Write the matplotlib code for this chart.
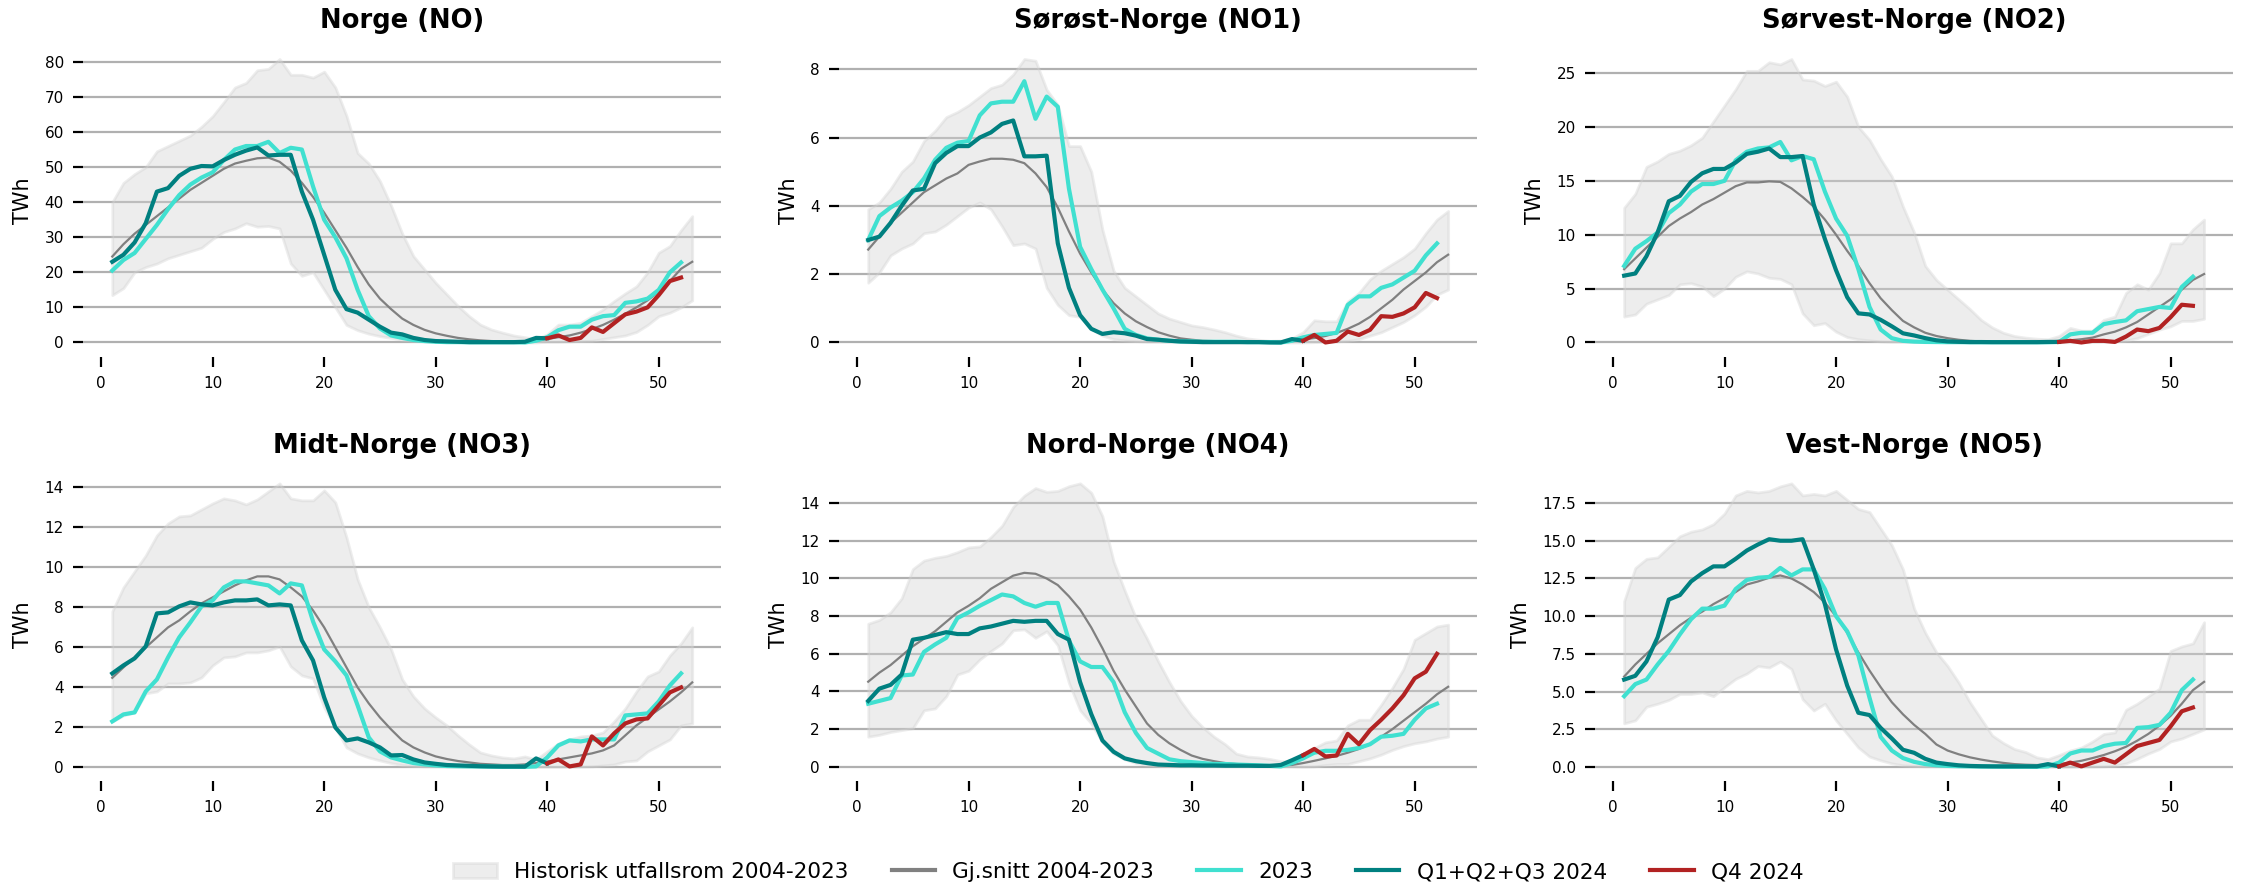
import matplotlib
matplotlib.use("Agg")
import matplotlib.pyplot as plt
from matplotlib.ticker import MultipleLocator
from matplotlib.patches import Patch
from matplotlib.lines import Line2D

weeks = list(range(1, 54))
weeks_2023 = list(range(1, 53))
weeks_q123 = list(range(1, 41))
weeks_q4 = list(range(40, 53))

titles = ["Norge (NO)", "Sørøst-Norge (NO1)", "Sørvest-Norge (NO2)",
          "Midt-Norge (NO3)", "Nord-Norge (NO4)", "Vest-Norge (NO5)"]
legend_labels = ["Historisk utfallsrom 2004-2023", "Gj.snitt 2004-2023",
                 "2023", "Q1+Q2+Q3 2024", "Q4 2024"]

# ---------------- Norge (NO) ----------------
NO_mean = [24.5, 28, 31, 33.5, 36, 38.5, 41, 43.5, 45.5, 47.5, 49.5, 51, 51.8, 52.5, 52.7, 51.5, 49, 45.5, 41.5, 37,
           32, 27, 21.5, 16.5, 12.5, 9.5, 6.8, 5, 3.6, 2.6, 1.9, 1.3, 0.9, 0.6, 0.4, 0.3, 0.25, 0.35, 0.6, 1.0,
           1.5, 2.0, 2.8, 3.8, 5.0, 6.5, 8.2, 10.0, 12.0, 14.5, 17.5, 21.0, 23.0]
NO_hi = [40, 45.5, 48, 50, 54.5, 56, 57.5, 59, 61.5, 64.5, 68.5, 72.7, 74, 77.6, 78, 80.8, 76.3, 76.3, 75.5, 77.2,
         72.7, 64.6, 54, 51, 46, 39, 31, 24.6, 20.8, 17, 13.7, 10.4, 7.5, 5.1, 3.7, 2.8, 2.0, 1.5, 1.0, 2.3,
         5.1, 5.1, 5.6, 7.5, 9.4, 11.8, 14, 16, 20, 25.6, 27.5, 32, 36]
NO_lo = [13.5, 15.5, 20, 21.5, 22.5, 24, 25, 26, 27, 29.5, 31.5, 32.5, 34, 33, 33.2, 32.5, 22.5, 19, 20, 15,
         10, 5, 3.5, 2.5, 1.8, 1.3, 0.8, 0.5, 0.3, 0.2, 0.1, 0.1, 0.05, 0.05, 0.05, 0, 0, 0, 0, 0.2,
         0.2, 0.3, 0.4, 0.5, 1.0, 1.5, 2.0, 3.0, 5.0, 7.5, 8.5, 10, 12]
NO_2023 = [20.5, 23.5, 25.5, 29.5, 33.5, 38, 42, 45, 47, 48.5, 52, 55, 56, 56, 57.2, 54, 55.5, 55, 44.5, 35,
           30, 24, 15, 7.5, 4, 2, 1.3, 0.7, 0.4, 0.2, 0.1, 0.1, 0.05, 0.05, 0.05, 0.05, 0.05, 0.0, 0.5, 1.5,
           3.5, 4.5, 4.5, 6.5, 7.5, 7.8, 11.3, 11.7, 12.5, 15, 20, 22.8]
NO_2024 = [23, 25, 28.5, 34, 43, 44, 47.5, 49.5, 50.3, 50.2, 52, 53.5, 54.7, 55.6, 53.3, 53.5, 53.5, 43, 35, 25,
           15, 9.5, 8.5, 6.5, 4.5, 2.8, 2.3, 1.3, 0.7, 0.4, 0.3, 0.2, 0.1, 0.1, 0.1, 0.1, 0.1, 0.2, 1.3, 1.2]
NO_q4 = [1.2, 2.0, 0.7, 1.3, 4.3, 3.0, 5.5, 8.0, 8.8, 10, 13.5, 17.5, 18.5]

# ---------------- NO1 ----------------
NO1_mean = [2.72, 3.1, 3.5, 3.8, 4.1, 4.4, 4.6, 4.8, 4.95, 5.2, 5.3, 5.38, 5.38, 5.35, 5.25, 4.95, 4.55, 3.95, 3.25, 2.6,
            2.05, 1.55, 1.15, 0.85, 0.62, 0.45, 0.3, 0.2, 0.12, 0.08, 0.05, 0.04, 0.03, 0.03, 0.02, 0.02, 0.02, 0.02, 0.04, 0.09,
            0.13, 0.19, 0.28, 0.4, 0.55, 0.75, 1.0, 1.25, 1.55, 1.8, 2.05, 2.35, 2.57]
NO1_hi = [3.9, 4.1, 4.5, 5.0, 5.3, 5.9, 6.2, 6.6, 6.75, 6.95, 7.2, 7.45, 7.55, 7.85, 8.3, 8.25, 7.4, 6.95, 5.75, 5.75,
          5.0, 3.3, 2.1, 1.6, 1.35, 1.1, 0.85, 0.7, 0.6, 0.5, 0.45, 0.38, 0.3, 0.2, 0.12, 0.08, 0.05, 0.06, 0.12, 0.3,
          0.65, 0.62, 0.62, 1.2, 1.45, 1.85, 2.1, 2.3, 2.5, 2.75, 3.2, 3.6, 3.85]
NO1_lo = [1.75, 2.05, 2.55, 2.75, 2.9, 3.2, 3.25, 3.45, 3.7, 3.95, 4.1, 3.9, 3.4, 2.85, 2.9, 2.75, 1.6, 1.1, 0.8, 0.75,
          0.4, 0.2, 0.1, 0.06, 0.04, 0.02, 0.02, 0.01, 0.01, 0.0, 0.0, 0.0, 0.0, 0.0, 0.0, 0.0, 0.0, 0.0, 0.0, 0.0,
          0.01, 0.02, 0.03, 0.05, 0.1, 0.2, 0.3, 0.45, 0.6, 0.8, 1.05, 1.4, 1.55]
NO1_2023 = [3.0, 3.7, 3.95, 4.15, 4.4, 4.8, 5.35, 5.7, 5.85, 5.9, 6.65, 7.0, 7.05, 7.05, 7.65, 6.55, 7.2, 6.9, 4.5, 2.8,
            2.15, 1.55, 1.0, 0.4, 0.22, 0.12, 0.08, 0.05, 0.03, 0.03, 0.02, 0.02, 0.02, 0.02, 0.01, 0.01, 0.01, 0.0, 0.05, 0.15,
            0.22, 0.25, 0.28, 1.1, 1.35, 1.35, 1.6, 1.7, 1.9, 2.1, 2.55, 2.9]
NO1_2024 = [3.0, 3.1, 3.5, 4.0, 4.45, 4.5, 5.25, 5.55, 5.75, 5.75, 6.0, 6.15, 6.4, 6.5, 5.45, 5.45, 5.47, 2.9, 1.6, 0.8,
            0.4, 0.25, 0.3, 0.27, 0.2, 0.1, 0.08, 0.05, 0.03, 0.02, 0.01, 0.01, 0.01, 0.01, 0.01, 0.01, 0.0, 0.0, 0.1, 0.05]
NO1_q4 = [0.05, 0.22, 0.0, 0.05, 0.32, 0.22, 0.37, 0.77, 0.75, 0.85, 1.03, 1.45, 1.3]

# ---------------- NO2 ----------------
NO2_mean = [6.8, 7.8, 8.8, 9.8, 10.8, 11.5, 12.1, 12.8, 13.3, 13.9, 14.5, 14.85, 14.85, 14.95, 14.9, 14.3, 13.5, 12.6, 11.4, 10.0,
            8.5, 7.1, 5.5, 4.1, 3.0, 2.0, 1.4, 0.9, 0.6, 0.4, 0.25, 0.15, 0.1, 0.08, 0.06, 0.05, 0.05, 0.05, 0.1, 0.15,
            0.2, 0.3, 0.45, 0.75, 1.0, 1.4, 1.9, 2.6, 3.3, 4.0, 4.9, 5.8, 6.35]
NO2_hi = [12.5, 13.8, 16.3, 16.8, 17.5, 17.8, 18.3, 19.0, 20.5, 22.0, 23.5, 25.2, 25.2, 26.0, 25.8, 26.3, 24.4, 24.3, 23.8, 24.2,
          22.8, 20.0, 18.8, 17.0, 15.4, 12.6, 10.2, 7.1, 5.8, 4.9, 4.0, 3.1, 2.1, 1.4, 0.9, 0.6, 0.45, 0.35, 0.3, 0.6,
          1.35, 1.1, 1.1, 2.1, 2.4, 4.6, 5.4, 4.9, 6.45, 9.2, 9.2, 10.5, 11.4]
NO2_lo = [2.4, 2.6, 3.6, 4.0, 4.4, 5.4, 5.5, 5.2, 4.3, 5.0, 6.1, 6.6, 6.4, 6.0, 5.9, 5.4, 2.7, 1.6, 1.8, 1.0,
          0.5, 0.3, 0.2, 0.1, 0.05, 0.05, 0.04, 0.03, 0.03, 0.02, 0.02, 0.02, 0.02, 0.02, 0.02, 0.02, 0.02, 0.02, 0.02, 0.02,
          0.02, 0.02, 0.03, 0.05, 0.1, 0.2, 0.4, 0.8, 1.2, 1.5, 2.0, 2.0, 2.2]
NO2_2023 = [7.1, 8.7, 9.4, 10.2, 12.0, 12.8, 14.0, 14.7, 14.7, 15.0, 16.9, 17.7, 18.0, 18.1, 18.6, 16.9, 17.3, 17.0, 14.0, 11.5,
            9.9, 6.8, 3.3, 1.2, 0.4, 0.15, 0.08, 0.05, 0.04, 0.03, 0.03, 0.02, 0.02, 0.02, 0.02, 0.02, 0.02, 0.02, 0.02, 0.05,
            0.75, 0.9, 0.9, 1.7, 1.9, 2.05, 2.9, 3.1, 3.3, 3.2, 5.15, 6.1]
NO2_2024 = [6.2, 6.4, 8.0, 10.2, 13.1, 13.6, 14.9, 15.7, 16.1, 16.1, 16.7, 17.5, 17.7, 18.0, 17.2, 17.2, 17.3, 12.8, 9.6, 6.7,
            4.2, 2.7, 2.6, 2.1, 1.5, 0.85, 0.65, 0.4, 0.2, 0.1, 0.06, 0.04, 0.04, 0.03, 0.03, 0.03, 0.03, 0.03, 0.05, 0.05]
NO2_q4 = [0.05, 0.15, 0.0, 0.15, 0.15, 0.05, 0.55, 1.2, 1.05, 1.35, 2.35, 3.5, 3.4]

# ---------------- NO3 ----------------
NO3_mean = [4.48, 5.0, 5.5, 6.0, 6.5, 7.0, 7.35, 7.8, 8.2, 8.5, 8.8, 9.1, 9.35, 9.55, 9.55, 9.4, 9.0, 8.55, 7.85, 7.0,
            6.0, 5.0, 4.0, 3.2, 2.5, 1.9, 1.35, 1.0, 0.75, 0.55, 0.42, 0.32, 0.25, 0.18, 0.15, 0.12, 0.12, 0.15, 0.22, 0.3,
            0.4, 0.5, 0.6, 0.7, 0.85, 1.1, 1.6, 2.1, 2.5, 2.9, 3.3, 3.75, 4.25]
NO3_hi = [7.8, 9.0, 9.8, 10.6, 11.6, 12.2, 12.55, 12.6, 12.9, 13.2, 13.45, 13.35, 13.15, 13.4, 13.8, 14.2, 13.45, 13.35, 13.35, 13.85,
          13.25, 11.5, 9.4, 8.0, 7.0, 5.9, 4.4, 3.55, 2.95, 2.5, 2.1, 1.6, 1.15, 0.75, 0.6, 0.5, 0.45, 0.55, 0.4, 0.8,
          1.2, 1.4, 1.55, 1.6, 1.75, 2.3, 2.95, 3.8, 4.55, 4.8, 5.6, 6.2, 7.0]
NO3_lo = [2.3, 2.6, 2.75, 3.7, 3.8, 4.2, 4.2, 4.25, 4.5, 5.1, 5.5, 5.55, 5.75, 5.75, 5.85, 6.05, 5.05, 4.6, 4.45, 3.0,
          2.0, 1.0, 0.7, 0.5, 0.35, 0.22, 0.12, 0.08, 0.05, 0.05, 0.04, 0.04, 0.03, 0.03, 0.03, 0.03, 0.03, 0.03, 0.03, 0.03,
          0.03, 0.03, 0.03, 0.05, 0.1, 0.15, 0.3, 0.35, 0.8, 1.1, 1.4, 2.1, 2.2]
NO3_2023 = [2.3, 2.65, 2.75, 3.8, 4.4, 5.5, 6.5, 7.25, 8.05, 8.35, 9.0, 9.3, 9.3, 9.2, 9.1, 8.7, 9.2, 9.1, 7.3, 5.9,
            5.3, 4.6, 3.1, 1.5, 0.8, 0.5, 0.35, 0.22, 0.15, 0.1, 0.07, 0.06, 0.05, 0.05, 0.04, 0.04, 0.04, 0.03, 0.05, 0.5,
            1.1, 1.35, 1.3, 1.4, 1.4, 1.4, 2.6, 2.65, 2.7, 3.3, 4.1, 4.7]
NO3_2024 = [4.7, 5.1, 5.45, 6.05, 7.7, 7.75, 8.05, 8.25, 8.15, 8.1, 8.25, 8.35, 8.35, 8.4, 8.1, 8.15, 8.1, 6.35, 5.35, 3.5,
            2.0, 1.35, 1.45, 1.25, 1.0, 0.6, 0.62, 0.4, 0.25, 0.18, 0.12, 0.1, 0.08, 0.06, 0.05, 0.04, 0.04, 0.04, 0.45, 0.2]
NO3_q4 = [0.2, 0.4, 0.05, 0.15, 1.55, 1.1, 1.7, 2.2, 2.4, 2.45, 3.1, 3.75, 4.0]

# ---------------- NO4 ----------------
NO4_mean = [4.52, 5.0, 5.4, 5.9, 6.4, 6.8, 7.2, 7.7, 8.2, 8.55, 8.95, 9.45, 9.8, 10.15, 10.3, 10.25, 10.0, 9.65, 9.05, 8.35,
            7.4, 6.3, 5.1, 4.1, 3.2, 2.3, 1.7, 1.25, 0.9, 0.6, 0.42, 0.3, 0.2, 0.15, 0.12, 0.1, 0.08, 0.08, 0.1, 0.2,
            0.32, 0.45, 0.58, 0.75, 0.95, 1.2, 1.6, 2.0, 2.45, 2.9, 3.35, 3.85, 4.25]
NO4_hi = [7.6, 7.8, 8.2, 8.95, 10.5, 10.95, 11.1, 11.2, 11.4, 11.65, 11.7, 12.2, 12.8, 13.8, 14.4, 14.8, 14.6, 14.65, 14.9, 15.05,
          14.55, 13.3, 10.9, 9.35, 7.9, 6.8, 5.6, 4.5, 3.5, 2.7, 2.1, 1.6, 1.2, 0.7, 0.55, 0.5, 0.42, 0.3, 0.3, 0.6,
          1.0, 1.3, 1.4, 2.2, 2.5, 2.5, 3.3, 4.2, 5.2, 6.75, 7.1, 7.45, 7.55]
NO4_lo = [1.6, 1.7, 1.85, 1.95, 2.05, 3.0, 3.1, 3.75, 4.9, 5.1, 5.7, 6.15, 6.55, 7.25, 7.3, 6.85, 7.2, 6.45, 4.45, 3.0,
          2.3, 1.3, 0.7, 0.4, 0.2, 0.1, 0.06, 0.05, 0.05, 0.04, 0.04, 0.04, 0.03, 0.03, 0.03, 0.03, 0.02, 0.02, 0.02, 0.0,
          0.02, 0.1, 0.15, 0.15, 0.3, 0.45, 0.65, 0.9, 1.1, 1.25, 1.35, 1.5, 1.6]
NO4_2023 = [3.35, 3.5, 3.65, 4.85, 4.9, 6.1, 6.5, 6.85, 7.9, 8.2, 8.55, 8.85, 9.15, 9.05, 8.7, 8.5, 8.7, 8.7, 6.7, 5.6,
            5.3, 5.3, 4.5, 2.9, 1.8, 1.0, 0.7, 0.4, 0.3, 0.25, 0.2, 0.15, 0.15, 0.12, 0.1, 0.08, 0.05, 0.02, 0.2, 0.45,
            0.75, 0.85, 0.85, 0.9, 1.0, 1.2, 1.6, 1.65, 1.75, 2.5, 3.1, 3.35]
NO4_2024 = [3.5, 4.15, 4.35, 4.9, 6.75, 6.85, 7.0, 7.15, 7.05, 7.05, 7.35, 7.45, 7.6, 7.75, 7.7, 7.75, 7.75, 7.05, 6.75, 4.5,
            2.8, 1.4, 0.8, 0.45, 0.3, 0.2, 0.12, 0.1, 0.08, 0.08, 0.07, 0.07, 0.06, 0.06, 0.06, 0.05, 0.05, 0.1, 0.35, 0.62]
NO4_q4 = [0.62, 0.95, 0.55, 0.6, 1.75, 1.2, 1.95, 2.5, 3.1, 3.8, 4.7, 5.05, 6.0]

# ---------------- NO5 ----------------
NO5_mean = [6.0, 6.8, 7.5, 8.2, 8.8, 9.4, 9.9, 10.3, 10.8, 11.2, 11.6, 12.1, 12.3, 12.55, 12.7, 12.5, 12.1, 11.6, 10.9, 10.0,
            8.9, 7.6, 6.4, 5.3, 4.3, 3.5, 2.8, 2.2, 1.5, 1.1, 0.85, 0.65, 0.5, 0.38, 0.28, 0.2, 0.16, 0.14, 0.16, 0.2,
            0.3, 0.42, 0.6, 0.8, 1.05, 1.35, 1.75, 2.2, 2.75, 3.4, 4.2, 5.1, 5.65]
NO5_hi = [11.0, 13.2, 13.8, 13.9, 14.6, 15.3, 15.6, 15.75, 16.1, 16.8, 18.0, 18.3, 18.2, 18.3, 18.6, 18.8, 18.0, 18.1, 18.0, 18.3,
          17.7, 17.1, 16.9, 15.8, 14.7, 13.1, 10.5, 8.9, 7.6, 6.7, 5.6, 4.3, 3.2, 2.1, 1.6, 1.2, 1.0, 0.65, 0.53, 0.8,
          1.1, 1.3, 1.7, 2.2, 2.3, 3.8, 4.2, 4.7, 5.2, 7.7, 8.0, 8.2, 9.6]
NO5_lo = [2.9, 3.1, 4.0, 4.2, 4.45, 4.85, 4.85, 4.95, 4.7, 5.3, 5.85, 6.2, 6.7, 6.6, 7.0, 6.5, 4.5, 3.75, 4.2, 3.1,
          2.2, 1.3, 0.7, 0.45, 0.25, 0.12, 0.08, 0.05, 0.05, 0.04, 0.04, 0.03, 0.03, 0.03, 0.03, 0.02, 0.02, 0.02, 0.02, 0.02,
          0.02, 0.02, 0.03, 0.05, 0.1, 0.25, 0.55, 0.9, 1.2, 1.7, 1.9, 2.2, 2.5]
NO5_2023 = [4.7, 5.5, 5.8, 6.8, 7.7, 8.8, 9.8, 10.5, 10.5, 10.7, 11.8, 12.4, 12.55, 12.6, 13.2, 12.7, 13.1, 13.1, 11.8, 10.0,
            9.0, 7.4, 4.6, 2.0, 1.1, 0.6, 0.35, 0.2, 0.12, 0.08, 0.06, 0.05, 0.04, 0.04, 0.03, 0.03, 0.03, 0.02, 0.05, 0.3,
            0.9, 1.1, 1.1, 1.4, 1.55, 1.6, 2.6, 2.65, 2.8, 3.6, 5.1, 5.8]
NO5_2024 = [5.8, 6.05, 7.0, 8.6, 11.1, 11.4, 12.3, 12.85, 13.3, 13.3, 13.8, 14.35, 14.75, 15.1, 15.0, 15.0, 15.1, 13.1, 10.8, 7.8,
            5.4, 3.6, 3.45, 2.6, 1.9, 1.15, 0.95, 0.55, 0.3, 0.2, 0.12, 0.08, 0.06, 0.05, 0.05, 0.05, 0.05, 0.05, 0.2, 0.05]
NO5_q4 = [0.05, 0.3, 0.05, 0.3, 0.55, 0.3, 0.85, 1.4, 1.6, 1.8, 2.7, 3.7, 3.95]

ytick_steps = [10, 2, 5, 2, 2, 2.5]

panels = [
    (NO_lo, NO_hi, NO_mean, NO_2023, NO_2024, NO_q4),
    (NO1_lo, NO1_hi, NO1_mean, NO1_2023, NO1_2024, NO1_q4),
    (NO2_lo, NO2_hi, NO2_mean, NO2_2023, NO2_2024, NO2_q4),
    (NO3_lo, NO3_hi, NO3_mean, NO3_2023, NO3_2024, NO3_q4),
    (NO4_lo, NO4_hi, NO4_mean, NO4_2023, NO4_2024, NO4_q4),
    (NO5_lo, NO5_hi, NO5_mean, NO5_2023, NO5_2024, NO5_q4),
]

BAND = "#d3d3d3"
MEAN = "gray"
C2023 = "turquoise"
C2024 = "teal"
CQ4 = "firebrick"

plt.rcParams["font.family"] = ["DejaVu Sans"]

fig, axes = plt.subplots(2, 3, figsize=(11.285, 4.44), dpi=200)
fig.subplots_adjust(left=0.0369, right=0.9894, top=0.9495, bottom=0.1205,
                    wspace=0.185, hspace=0.361)

for ax, title, step, (lo, hi, mean, y23, y24, yq4) in zip(axes.flat, titles, ytick_steps, panels):
    ax.fill_between(weeks, lo, hi, color=BAND, alpha=0.4, zorder=1)
    ax.plot(weeks, mean, color=MEAN, lw=0.8, zorder=2)
    ax.plot(weeks_2023, y23, color=C2023, lw=1.5, zorder=3)
    ax.plot(weeks_q123, y24, color=C2024, lw=1.5, zorder=4)
    ax.plot(weeks_q4, yq4, color=CQ4, lw=1.5, zorder=5)
    ax.set_title(title, fontsize=9.3, fontweight="bold")
    ax.set_ylabel("TWh", fontsize=7.5)
    ax.xaxis.set_major_locator(MultipleLocator(10))
    ax.yaxis.set_major_locator(MultipleLocator(step))
    ax.grid(axis="y", color="#b0b0b0", lw=0.8)
    ax.set_axisbelow(True)
    for s in ax.spines.values():
        s.set_visible(False)
    ax.tick_params(labelsize=5.5)

handles = [
    Patch(facecolor=BAND, edgecolor=BAND, alpha=0.4),
    Line2D([], [], color=MEAN, lw=1.5),
    Line2D([], [], color=C2023, lw=1.5),
    Line2D([], [], color=C2024, lw=1.5),
    Line2D([], [], color=CQ4, lw=1.5),
]
fig.legend(handles, legend_labels, loc="center", bbox_to_anchor=(0.5, 0.018),
           ncol=5, frameon=False, fontsize=7.8)

fig.savefig("out.png", dpi=200)
